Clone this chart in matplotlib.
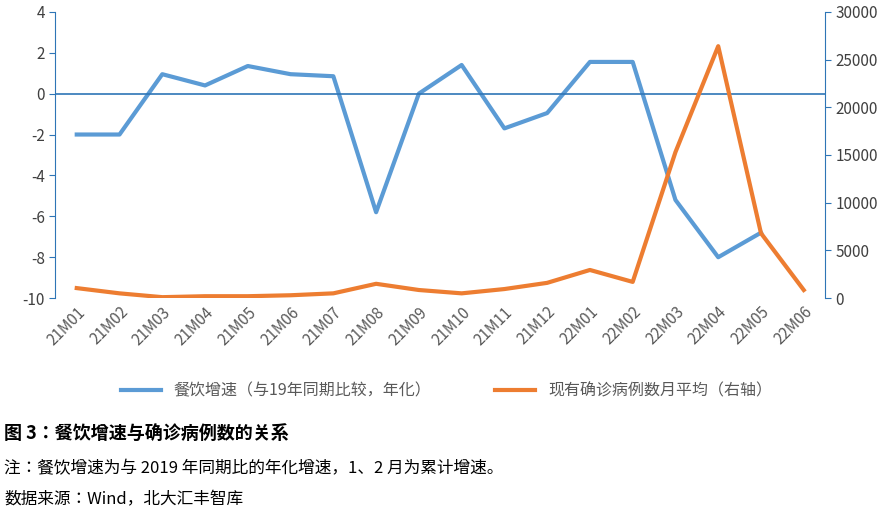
import matplotlib.pyplot as plt
import numpy as np

plt.rcParams['font.family'] = ['Noto Sans CJK SC', 'Noto Sans CJK JP', 'Noto Sans CJK TC',
                               'Noto Sans CJK KR', 'DejaVu Sans']
plt.rcParams['axes.unicode_minus'] = False

months = ['21M01', '21M02', '21M03', '21M04', '21M05', '21M06', '21M07', '21M08', '21M09',
          '21M10', '21M11', '21M12', '22M01', '22M02', '22M03', '22M04', '22M05', '22M06']
growth = [-2, -2, 0.95, 0.4, 1.35, 0.95, 0.85, -5.8, 0, 1.4, -1.7, -0.95, 1.55, 1.55,
          -5.2, -8, -6.8, np.nan]
cases = [1050, 500, 100, 200, 200, 300, 500, 1500, 850, 500, 950, 1600, 2950, 1700,
         15300, 26400, 6800, 850]

blue = '#5B9BD5'
orange = '#ED7D31'
axc = '#2E75B6'

fig = plt.figure(figsize=(8.93, 5.14), dpi=100)
ax = fig.add_axes([0.062, 0.42, 0.862, 0.557])
x = np.arange(len(months))
l1, = ax.plot(x, growth, color=blue, lw=3, label='餐饮增速（与19年同期比较，年化）')
ax.set_ylim(-10, 4)
ax.set_yticks(range(-10, 5, 2))
ax.set_xlim(-0.5, 17.5)
ax.set_xticks(x)
ax.set_xticklabels(months, rotation=45, ha='right', rotation_mode='anchor', fontsize=11, color='#595959')
ax.axhline(0, color=axc, lw=1.2)
ax2 = ax.twinx()
l2, = ax2.plot(x, cases, color=orange, lw=3, label='现有确诊病例数月平均（右轴）')
ax2.set_ylim(0, 30000)
ax2.set_yticks(range(0, 30001, 5000))
for a in (ax, ax2):
    a.spines['top'].set_visible(False)
    a.spines['bottom'].set_visible(False)
    a.spines['left'].set_color(axc)
    a.spines['right'].set_color(axc)
    a.tick_params(axis='y', colors='#404040', labelsize=11, direction='out', length=4)
    a.tick_params(axis='y', color=axc)
ax.tick_params(axis='x', length=0, pad=4)
ax2.spines['left'].set_visible(False)
ax.spines['right'].set_visible(False)

fig.legend(handles=[l1, l2], loc='center', bbox_to_anchor=(0.5, 0.24), ncol=2, frameon=False,
           fontsize=11.5, handlelength=2.5, columnspacing=4, labelcolor='#595959')

fig.text(0.005, 0.145, '图 3：餐饮增速与确诊病例数的关系', fontsize=13, fontweight='bold')
fig.text(0.005, 0.08, '注：餐饮增速为与 2019 年同期比的年化增速，1、2 月为累计增速。', fontsize=12)
fig.text(0.005, 0.018, '数据来源：Wind，北大汇丰智库', fontsize=12)

fig.savefig('out.png', dpi=100)
